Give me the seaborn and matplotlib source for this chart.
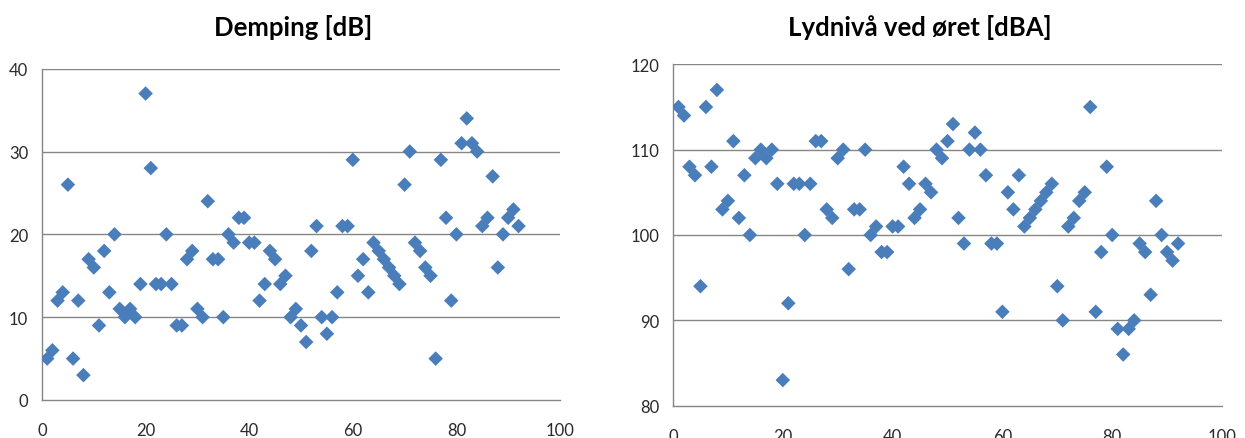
import matplotlib
matplotlib.use("Agg")
import matplotlib.pyplot as plt
import seaborn as sns
import pandas as pd

# ---- data ----
sample_no = list(range(1, 93))
demping_db = [5, 6, 12, 13, 26, 5, 12, 3, 17, 16,
              9, 18, 13, 20, 11, 10, 11, 10, 14, 37,
              28, 14, 14, 20, 14, 9, 9, 17, 18, 11,
              10, 24, 17, 17, 10, 20, 19, 22, 22, 19,
              19, 12, 14, 18, 17, 14, 15, 10, 11, 9,
              7, 18, 21, 10, 8, 10, 13, 21, 21, 29,
              15, 17, 13, 19, 18, 17, 16, 15, 14, 26,
              30, 19, 18, 16, 15, 5, 29, 22, 12, 20,
              31, 34, 31, 30, 21, 22, 27, 16, 20, 22,
              23, 21]
lydniva_dba = [115, 114, 108, 107, 94, 115, 108, 117, 103, 104,
               111, 102, 107, 100, 109, 110, 109, 110, 106, 83,
               92, 106, 106, 100, 106, 111, 111, 103, 102, 109,
               110, 96, 103, 103, 110, 100, 101, 98, 98, 101,
               101, 108, 106, 102, 103, 106, 105, 110, 109, 111,
               113, 102, 99, 110, 112, 110, 107, 99, 99, 91,
               105, 103, 107, 101, 102, 103, 104, 105, 106, 94,
               90, 101, 102, 104, 105, 115, 91, 98, 108, 100,
               89, 86, 89, 90, 99, 98, 93, 104, 100, 98,
               97, 99]
titles = ["Demping [dB]", "Lydnivå ved øret [dBA]"]
x_ticks = [0, 20, 40, 60, 80, 100]
y_ticks_left = [0, 10, 20, 30, 40]
y_ticks_right = [80, 90, 100, 110, 120]

df = pd.DataFrame({"nr": sample_no, "demping": demping_db, "lydniva": lydniva_dba})

sns.set_theme(style="white")
plt.rcParams["font.family"] = ["Lato", "DejaVu Sans"]

W, H = 1245, 439
fig = plt.figure(figsize=(W / 100, H / 100), dpi=100)
fig.patch.set_facecolor("white")

grey = "#868686"
blue = "#4A7EBB"


def make_axes(l, r, top, bottom):
    return fig.add_axes([l / W, (H - bottom) / H, (r - l) / W, (bottom - top) / H])


ax1 = make_axes(42, 560, 69.7, 401)
ax2 = make_axes(673, 1222, 65.3, 406.7)

for ax, col, yt in [(ax1, "demping", y_ticks_left), (ax2, "lydniva", y_ticks_right)]:
    sns.scatterplot(data=df, x="nr", y=col, ax=ax, marker="D", s=55,
                    color=blue, edgecolor="none", linewidth=0, zorder=3)
    ax.set_xlim(x_ticks[0], x_ticks[-1])
    ax.set_ylim(yt[0], yt[-1])
    ax.set_xticks(x_ticks)
    ax.set_yticks(yt)
    ax.set_xlabel("")
    ax.set_ylabel("")
    ax.grid(False)
    for v in yt[1:]:
        ax.axhline(v, color=grey, linewidth=1.0, zorder=1)
    for s in ["top", "right"]:
        ax.spines[s].set_visible(False)
    for s in ["left", "bottom"]:
        ax.spines[s].set_color(grey)
        ax.spines[s].set_linewidth(1.0)
    ax.tick_params(axis="both", which="both", direction="out", length=4,
                   width=1.0, color=grey, labelsize=12, labelcolor="#2a2a2a")
    ax.tick_params(axis="y", pad=6)
    ax.tick_params(axis="x", pad=12)
    ax.set_facecolor("white")

fig.text(293 / W, 1 - 28 / H, titles[0], ha="center", va="center",
         fontsize=18.5, fontweight="bold", color="#000000")
fig.text(920 / W, 1 - 28 / H, titles[1], ha="center", va="center",
         fontsize=18.5, fontweight="bold", color="#000000")

fig.savefig("out.png", dpi=100, facecolor="white")
